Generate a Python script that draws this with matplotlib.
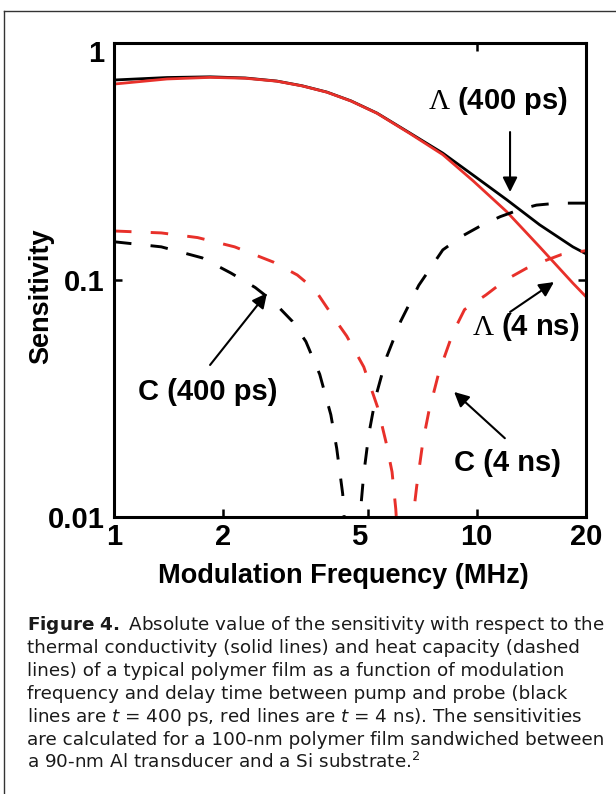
import numpy as np
import matplotlib
matplotlib.use("Agg")
import matplotlib.pyplot as plt
from matplotlib.lines import Line2D
from matplotlib.transforms import ScaledTranslation

plt.rcParams['mathtext.fontset'] = 'custom'
plt.rcParams['mathtext.rm'] = 'Liberation Serif'
plt.rcParams['mathtext.it'] = 'DejaVu Sans:italic'
plt.rcParams['mathtext.bf'] = 'DejaVu Sans:bold'
plt.rcParams['mathtext.sf'] = 'DejaVu Sans'
plt.rcParams['font.family'] = ['Liberation Sans', 'DejaVu Sans']

# ---- data ----
freq_L400 = [1, 1.4, 1.84, 2.3, 2.81, 3.3, 3.86, 4.5, 5.31, 6.54, 8.06, 9.77, 12.1, 14.9, 18.4, 20]
sens_L400 = [0.698, 0.715, 0.72, 0.712, 0.691, 0.66, 0.621, 0.57, 0.506, 0.417, 0.343, 0.277, 0.218, 0.171, 0.138, 0.129]

freq_L4 = [1, 1.4, 1.84, 2.3, 2.81, 3.3, 3.86, 4.5, 5.31, 6.54, 8.06, 9.77, 12.1, 14.9, 18.4, 20]
sens_L4 = [0.671, 0.705, 0.716, 0.71, 0.69, 0.659, 0.62, 0.569, 0.505, 0.415, 0.338, 0.262, 0.194, 0.138, 0.097, 0.085]

freq_C400 = [1, 1.35, 1.75, 2.1, 2.45, 2.75, 3.1, 3.38, 3.69, 3.96, 4.11, 4.27, 4.45, 4.55, 4.65,
             4.79, 4.88, 5.04, 5.27, 5.65, 6.17, 6.92, 8.06, 9.1, 10.3, 11.6, 13.1, 14.6, 16.7, 18.8, 20]
sens_C400 = [0.145, 0.138, 0.124, 0.107, 0.093, 0.081, 0.067, 0.055, 0.040, 0.027, 0.0195, 0.0125, 0.0045, 0.0005, 0.0045,
             0.011, 0.0152, 0.0224, 0.0323, 0.0476, 0.067, 0.095, 0.134, 0.153, 0.170, 0.185, 0.198, 0.207, 0.211, 0.211, 0.211]

freq_C4 = [1, 1.35, 1.7, 2.15, 2.75, 3.2, 3.58, 4.07, 4.38, 4.88, 5.33, 5.62, 5.84, 5.98, 6.2, 6.35, 6.5,
           6.7, 6.83, 7.1, 7.37, 7.86, 8.6, 9.25, 10.6, 12, 13.7, 15.5, 17.1, 20]
sens_C4 = [0.161, 0.158, 0.151, 0.138, 0.119, 0.105, 0.091, 0.068, 0.058, 0.043, 0.029, 0.0207, 0.0155, 0.0108, 0.0045, 0.0005, 0.0045,
           0.0105, 0.0135, 0.0207, 0.0277, 0.0407, 0.06, 0.075, 0.0865, 0.100, 0.112, 0.121, 0.128, 0.133]

xticks_major = [1, 10, 20]
xticks_minor = [2, 5]
yticks = [0.01, 0.1, 1]

caption_lines = [
    r"$\bf{Figure\ 4.}$ Absolute value of the sensitivity with respect to the",
    "thermal conductivity (solid lines) and heat capacity (dashed",
    "lines) of a typical polymer film as a function of modulation",
    "frequency and delay time between pump and probe (black",
    r"lines are $t$ = 400 ps, red lines are $t$ = 4 ns). The sensitivities",
    "are calculated for a 100-nm polymer film sandwiched between",
    r"a 90-nm Al transducer and a Si substrate.$^{\mathsf{2}}$",
]

RED = '#e8302a'
W, H = 616, 794
fig = plt.figure(figsize=(W / 100, H / 100), dpi=100)
fig.patch.set_facecolor('white')

L, R, T, B = 114, 586, 43, 517
ax = fig.add_axes([L / W, 1 - B / H, (R - L) / W, (B - T) / H])
ax.set_xscale('log')
ax.set_yscale('log')
ax.set_xlim(1, 20)
ax.set_ylim(0.01, 1)

dash = (0, (6.0, 6.6))
ax.plot(freq_L400, sens_L400, color='black', lw=2.0, solid_capstyle='butt')
ax.plot(freq_L4, sens_L4, color=RED, lw=2.0, solid_capstyle='butt')
ax.plot(freq_C400, sens_C400, color='black', lw=2.1, linestyle=dash, dash_capstyle='butt')
ax.plot(freq_C4, sens_C4, color=RED, lw=2.1, linestyle=dash, dash_capstyle='butt')

for s in ax.spines.values():
    s.set_linewidth(2.2)

ax.set_xticks(xticks_major, labels=[str(v) for v in xticks_major])
ax.set_xticks(xticks_minor, labels=[str(v) for v in xticks_minor], minor=True)
ax.set_yticks(yticks, labels=['0.01', '0.1', '1'])
ax.yaxis.set_minor_locator(matplotlib.ticker.NullLocator())

ax.tick_params(which='both', direction='in', length=5.8, width=1.8,
               labelsize=21, pad=4)
ax.tick_params(axis='x', which='major', top=True, bottom=True)
ax.tick_params(axis='x', which='minor', top=False, bottom=True)
ax.tick_params(axis='y', which='major', left=True, right=True, pad=7)
for lab in ax.get_xticklabels(which='both') + ax.get_yticklabels():
    lab.set_fontweight('bold')

fig.canvas.draw()
# small label offsets as in the original
for lab in ax.xaxis.get_minorticklabels():
    if lab.get_text() == '5':
        lab.set_transform(lab.get_transform() + ScaledTranslation(-8 / 100, 0, fig.dpi_scale_trans))
for lab in ax.get_yticklabels():
    if lab.get_text() == '1':
        lab.set_transform(lab.get_transform() + ScaledTranslation(0, -8 / 100, fig.dpi_scale_trans))

ax.set_xlabel('Modulation Frequency (MHz)', fontsize=19.5, fontweight='bold')
ax.xaxis.set_label_coords(0.487, -0.097)
ax.set_ylabel('Sensitivity', fontsize=19.5, fontweight='bold')
ax.yaxis.set_label_coords(-0.127, 0.466)

akw = dict(arrowstyle='-|>', color='black', lw=1.5, mutation_scale=22, shrinkA=0, shrinkB=0)
tkw = dict(fontsize=21, fontweight='bold', ha='center', va='center')

ax.annotate('', xy=(12.35, 0.235), xytext=(12.35, 0.421), arrowprops=akw)
ax.text(11.44, 0.569, r'$\Lambda$ (400 ps)', **tkw)

ax.annotate('', xy=(16.32, 0.098), xytext=(12.35, 0.0733), arrowprops=akw)
ax.text(13.66, 0.0633, r'$\Lambda$ (4 ns)', **tkw)

ax.annotate('', xy=(2.64, 0.088), xytext=(1.84, 0.0438), arrowprops=akw)
ax.text(1.815, 0.0337, 'C (400 ps)', **tkw)

ax.annotate('', xy=(8.66, 0.0337), xytext=(11.95, 0.0215), arrowprops=akw)
ax.text(12.18, 0.0169, 'C (4 ns)', **tkw)

# outer frame (top and left edges visible)
fx, fy = 4 / W, 1 - 11 / H
fig.add_artist(Line2D([fx, 1], [fy, fy], transform=fig.transFigure, color='#333333', lw=1.0))
fig.add_artist(Line2D([fx, fx], [fy, 0], transform=fig.transFigure, color='#333333', lw=1.0))

# caption
base0, pitch = 630, 23
for i, line in enumerate(caption_lines):
    fig.text(27 / W, 1 - (base0 + i * pitch) / H, line, fontsize=13.2,
             family=['DejaVu Sans'], ha='left', va='baseline', color='#1a1a1a')

fig.savefig('out.png', dpi=100, facecolor='white')
